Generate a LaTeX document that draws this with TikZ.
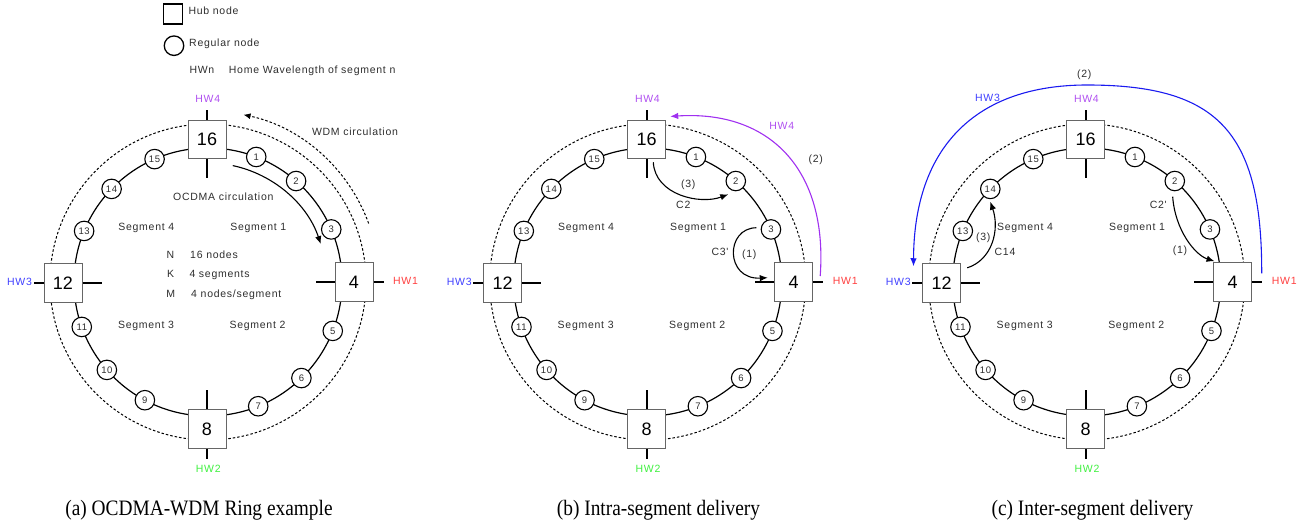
\documentclass[tikz,border=0pt]{standalone}
\usepackage{fontspec}
\setmainfont{Liberation Sans}
\newfontfamily\labfont[LetterSpace=7]{Liberation Sans}
\newfontfamily\hubfont{Liberation Sans}
\newfontfamily\capfont[FakeStretch=0.88]{Liberation Serif}
\usetikzlibrary{arrows.meta}
\definecolor{hwpurple}{HTML}{B050F0}
\definecolor{arrpurple}{HTML}{A030F0}
\definecolor{hwred}{HTML}{FF4040}
\definecolor{hwblue}{HTML}{4040FF}
\definecolor{arrblue}{HTML}{1A1AF0}
\definecolor{hwgreen}{HTML}{40F040}
\definecolor{txtgray}{HTML}{2E2E2E}
\definecolor{boxgray}{HTML}{666666}
\tikzset{
  ringline/.style={line width=1.2pt},
  dotline/.style={line width=1pt, dash pattern=on 2.5pt off 2pt},
  regnode/.style={circle, draw, line width=1.1pt, fill=white, minimum size=19.5pt, inner sep=0pt,
    font=\labfont\fontsize{9.5}{10}\selectfont, text=txtgray},
  hubnode/.style={rectangle, draw=boxgray, line width=1pt, fill=white, minimum width=38pt,
    minimum height=38.5pt, inner sep=0pt, font=\hubfont\fontsize{18}{18}\selectfont},
  tickline/.style={line width=2pt},
  lbl/.style={font=\labfont\fontsize{10.5}{12}\selectfont, text=txtgray, inner sep=0pt,
    text height=7.6pt, text depth=0pt},
  hwlbl/.style={lbl},
  arr/.style={line width=1.1pt, -{Latex[length=8pt,width=6.5pt]}},
  captxt/.style={font=\capfont\fontsize{22}{24}\selectfont, inner sep=0pt}
}
\newcommand{\ringpanel}[2]{%
\begin{scope}[shift={(#2,-282)}]
 \coordinate (#1c) at (0,0);
 \draw[dotline] (#1c) circle[radius=158];
 \draw[ringline] (#1c) circle[radius=134];
 \foreach \k/\a in {1/68.9,2/48.9,3/23.1,5/-21.4,6/-45.8,7/-68,9/241.9,10/221,11/199.6,13/157.6,14/136,15/113.5}
   \node[regnode] (#1n\k) at (\a:134) {\k};
 \foreach \k/\hx/\hy/\a/\b in {16/-1/142.5/90/270,4/146/0/0/180,8/-1/-147/270/90,12/-145/-1/180/0} {
   \node[hubnode] (#1h\k) at (\hx,\hy) {\k};
   \draw[tickline] (#1h\k.\a) -- ++(\a:10);
   \draw[tickline] (#1h\k.\b) -- ++(\b:19);
 }
 \node[hwlbl, text=hwpurple] (#1hw4) at (-0.3,183.7) {HW4};
 \node[hwlbl, text=hwred] (#1hw1) at (197.5,1.5) {HW1};
 \node[hwlbl, text=hwblue] (#1hw3) at (-188.5,0) {HW3};
 \node[hwlbl, text=hwgreen] (#1hw2) at (0.3,-187) {HW2};
 \node[lbl] (#1s4) at (-61.7,55.3) {Segment 4};
 \node[lbl] (#1s1) at (50.3,55.3) {Segment 1};
 \node[lbl] (#1s3) at (-62,-43) {Segment 3};
 \node[lbl] (#1s2) at (49.5,-43) {Segment 2};
\end{scope}}
\begin{document}
\begin{tikzpicture}[x=1pt,y=1pt]
\useasboundingbox (0,0) rectangle (1314,-526);
% legend
\node[hubnode, draw=black, line width=1.3pt, minimum width=19pt, minimum height=20pt] (leghub) at (173,-14) {};
\node[regnode, line width=1.3pt] (legreg) at (174,-45.7) {};
\node[lbl, anchor=west] (leghubt) at (188.3,-10.7) {Hub node};
\node[lbl, anchor=west] (legregt) at (189,-42.3) {Regular node};
\node[lbl, anchor=west] (leghwn) at (189.3,-69.3) {HWn};
\node[lbl, anchor=west] (leghwt) at (228.7,-69.3) {Home Wavelength of segment n};

% panels
\ringpanel{a}{208}
\ringpanel{b}{647.7}
\ringpanel{c}{1086.7}

% panel (a) extras
\draw[dotline, -{Latex[length=7pt,width=6pt]}] ([shift={(20:171)}]ac) arc[start angle=20, end angle=78, radius=171];
\draw[arr] ([shift={(78:119)}]ac) arc[start angle=78, end angle=18.6, radius=119];
\node[lbl] (awdm) at (355,-131.7) {WDM circulation};
\node[lbl] (aocd) at (223.3,-196.7) {OCDMA circulation};
\node[lbl] (aN) at (170.5,-254.3) {N};
\node[lbl, anchor=west] (aNt) at (190,-254.3) {16 nodes};
\node[lbl] (aK) at (170.5,-273.5) {K};
\node[lbl, anchor=west] (aKt) at (189.3,-273.5) {4 segments};
\node[lbl] (aM) at (170.7,-293.8) {M};
\node[lbl, anchor=west] (aMt) at (191,-293.8) {4 nodes/segment};

% panel (b) extras
\draw[arr, arrpurple] ([shift={(7,6)}]bh4.east) .. controls (828,-170) and (770,-110) .. ([shift={(4,3.3)}]bh16.north east);
\draw[arr] ([shift={(6.6,-3)}]bh16.south) .. controls (655,-195) and (700,-205) .. ([shift={(-7.5,-13.3)}]bn2.center);
\draw[arr] ([shift={(-4.2,1.7)}]bn3.west) .. controls (725,-228) and (725,-280) .. ([shift={(-6.4,4.3)}]bh4.west);
\node[lbl, text=hwpurple] (bhw4b) at (781.7,-125.7) {HW4};
\node[lbl] (bl2) at (815.7,-159) {(2)};
\node[lbl] (bl3) at (688.3,-184) {(3)};
\node[lbl] (bc2) at (683.3,-204.3) {C2};
\node[lbl] (bc3) at (720,-251.7) {C3'};
\node[lbl] (bl1) at (749.3,-253.3) {(1)};

% panel (c) extras
\coordinate (ctop) at (1087,-85);
\draw[arr, arrblue] ([shift={(9.5,8.7)}]ch4.east) .. controls (1262,-132) and (1218,-85) .. (ctop)
   .. controls (975,-85) and (914,-148) .. ([shift={(-8.7,-3)}]ch12.north west);
\draw[arr] ([shift={(-2.1,-5.4)}]cn2.south) .. controls (1175,-230) and (1195,-255) .. ([shift={(1.3,1)}]ch4.north west);
\draw[arr] ([shift={(6,-4.6)}]ch12.north east) .. controls (992,-260) and (1000,-230) .. ([yshift=-2.5pt]cn14.south);
\node[lbl] (cl2) at (1084.3,-74) {(2)};
\node[lbl, text=hwblue] (chw3b) at (987.5,-97.3) {HW3};
\node[lbl] (cc2) at (1158.3,-205) {C2'};
\node[lbl] (cl1) at (1180,-249.3) {(1)};
\node[lbl] (cl3) at (983.3,-236.7) {(3)};
\node[lbl] (cc14) at (1005,-251.7) {C14};

% captions
\node[captxt] (capa) at (199,-510) {(a) OCDMA-WDM Ring example};
\node[captxt] (capb) at (658.5,-510) {(b) Intra-segment delivery};
\node[captxt] (capc) at (1092.5,-510) {(c) Inter-segment delivery};
\end{tikzpicture}
\end{document}
